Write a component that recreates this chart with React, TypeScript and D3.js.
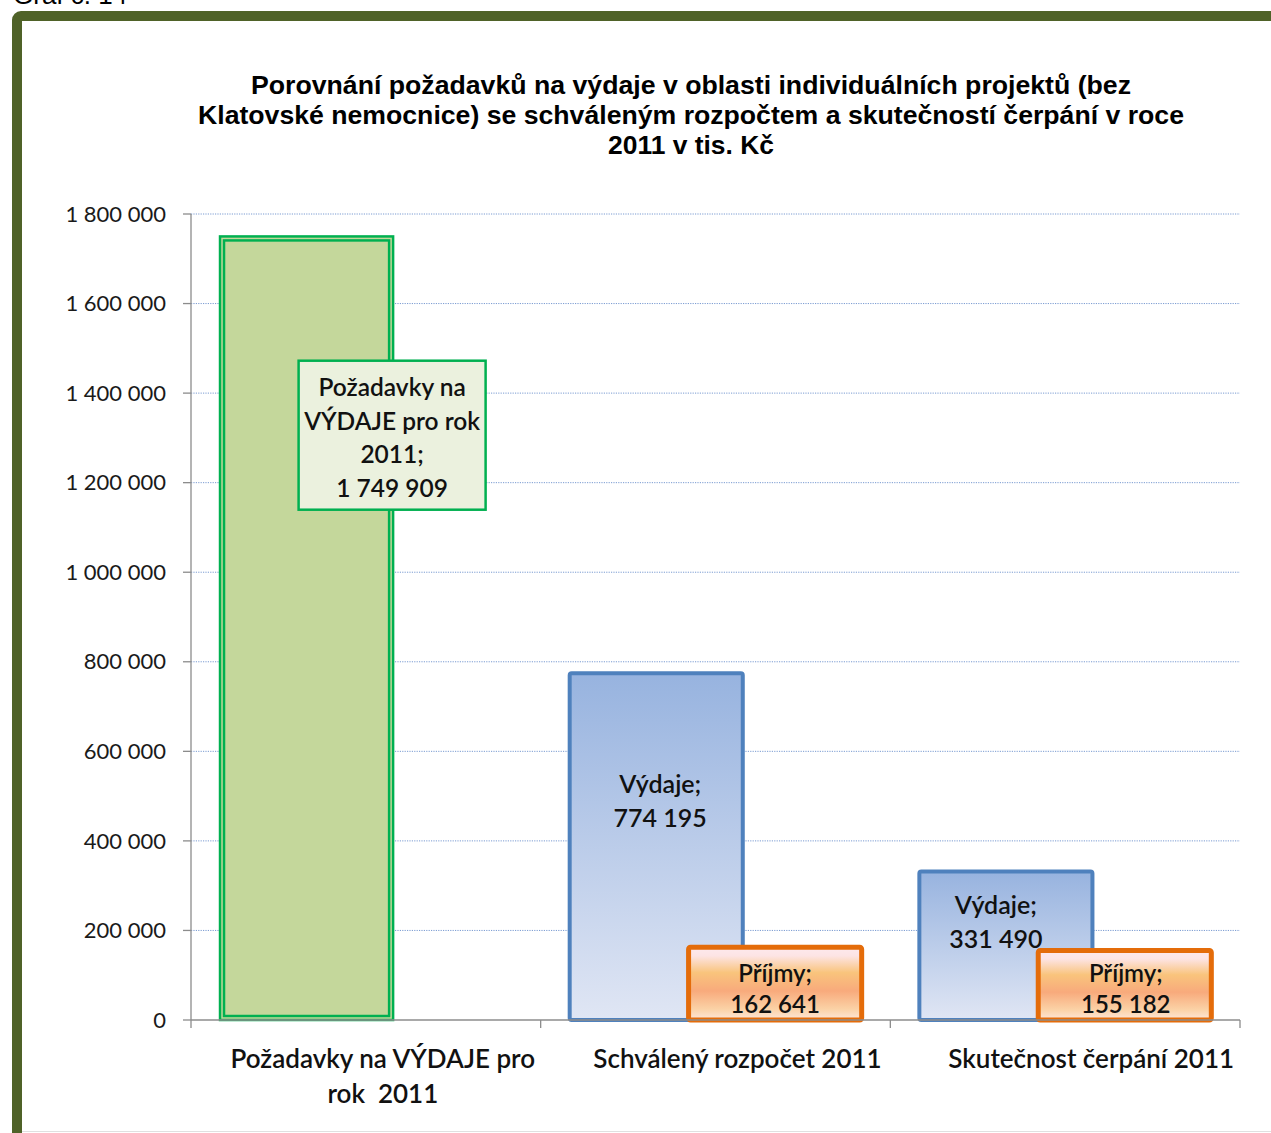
import React from "react";
import * as d3 from "d3";

const categories = ["Požadavky na VÝDAJE pro rok  2011", "Schválený rozpočet 2011", "Skutečnost čerpání 2011"];
const categoryLines = [["Požadavky na VÝDAJE pro", "rok\u00a0\u00a02011"], ["Schválený rozpočet 2011"], ["Skutečnost čerpání 2011"]];
const seriesNames = ["Výdaje", "Příjmy"];
const vydaje = [1749909, 774195, 331490];
const prijmy = [0, 162641, 155182];
const yTicks = [0, 200000, 400000, 600000, 800000, 1000000, 1200000, 1400000, 1600000, 1800000];
const titleLines = [
  "Porovnání požadavků na výdaje v oblasti individuálních projektů (bez",
  "Klatovské nemocnice) se schváleným rozpočtem a skutečností čerpání v roce",
  "2011 v tis. Kč",
];
// label anchor positions (in data units) for data labels
const vydajeLabelAt = [1300000, 489000, 219000];
const prijmyLabelAt = [0, 67000, 67000];

const W = 1271;
const H = 1133;
const plot = { left: 191, right: 1240, top: 214, bottom: 1020 };
const FONT = "Lato, 'Open Sans', sans-serif";
const titleWidths = [880, 986, 166];
const catLabelShift = [17, 22, 26];

const fmt = (v: number) => d3.format(",")(v).replace(/,/g, "\u00a0");

export default function App() {
  const y = d3.scaleLinear().domain([0, 1800000]).range([plot.bottom, plot.top]);
  const x = d3.scaleBand<string>().domain(categories).range([plot.left, plot.right]).paddingInner(0).paddingOuter(0);
  const bw = x.bandwidth();
  const barW = bw * 0.495;
  const vOff = bw * 0.083;
  const pOff = bw * 0.423;

  return (
    <svg width={W} height={H} style={{ position: "absolute", left: 0, top: 0, background: "#fff" }} fontFamily={FONT}>
      <defs>
        <linearGradient id="gV" x1="0" y1="0" x2="0" y2="1">
          <stop offset="0" stopColor="#97b3df" />
          <stop offset="1" stopColor="#e0e6f4" />
        </linearGradient>
        <linearGradient id="gP" x1="0" y1="0" x2="0" y2="1">
          <stop offset="0" stopColor="#fde9ee" />
          <stop offset="0.12" stopColor="#fde4e4" />
          <stop offset="0.35" stopColor="#f9c47c" />
          <stop offset="0.6" stopColor="#f8aa7c" />
          <stop offset="0.85" stopColor="#fbd2a6" />
          <stop offset="1" stopColor="#fde7dc" />
        </linearGradient>
      </defs>
      <text x={13} y={4} fontFamily="'Liberation Sans', Arial, sans-serif" fontSize={26} fill="#000">Graf č. 14</text>
      {/* frame */}
      <rect x={17} y={16} width={1300} height={1200} rx={4} fill="#fff" stroke="#4f6228" strokeWidth={10} />
      <line x1={22} x2={W} y1={1131.5} y2={1131.5} stroke="#e0e0e0" strokeWidth={1} />
      {/* title */}
      {titleLines.map((t, i) => (
        <text key={i} x={691} y={94 + i * 30} textAnchor="middle" fontFamily="'Liberation Sans', Arial, sans-serif"
          fontWeight="bold" fontSize={25} fill="#000" textLength={titleWidths[i]} lengthAdjust="spacingAndGlyphs">{t}</text>
      ))}
      {/* gridlines */}
      {yTicks.filter((t) => t > 0).map((t) => (
        <line key={t} x1={plot.left} x2={plot.right} y1={y(t)} y2={y(t)} stroke="#7a9bd1" strokeWidth={1} strokeDasharray="1.2,1.2" />
      ))}
      {/* y axis */}
      <line x1={plot.left} x2={plot.left} y1={plot.top} y2={plot.bottom} stroke="#8c8c8c" strokeWidth={1.3} />
      {yTicks.map((t) => (
        <g key={t}>
          <line x1={plot.left - 8} x2={plot.left} y1={y(t)} y2={y(t)} stroke="#8c8c8c" strokeWidth={1.3} />
          <text x={166} y={y(t)} dy="0.35em" textAnchor="end" fontSize={22} fill="#1a1a1a">{fmt(t)}</text>
        </g>
      ))}
      {/* bars: Výdaje */}
      {categories.map((c, i) => {
        const x0 = (x(c) as number) + vOff;
        const y0 = y(vydaje[i]);
        const h = y(0) - y0;
        if (i === 0) {
          return (
            <g key={c}>
              <rect x={x0} y={y0} width={barW} height={h} fill="#c4d79b" stroke="#00b050" strokeWidth={2.5} />
              <rect x={x0 + 4} y={y0 + 4} width={barW - 8} height={h - 8} fill="none" stroke="#00b050" strokeWidth={2.5} />
            </g>
          );
        }
        return <rect key={c} x={x0} y={y0} width={barW} height={h} rx={2} fill="url(#gV)" stroke="#4f81bd" strokeWidth={4} />;
      })}
      {/* bars: Příjmy */}
      {categories.map((c, i) => {
        if (prijmy[i] <= 0) return null;
        const x0 = (x(c) as number) + pOff;
        const y0 = y(prijmy[i]);
        return <rect key={c} x={x0} y={y0} width={barW} height={y(0) - y0} rx={2} fill="url(#gP)" stroke="#e46c0a" strokeWidth={5} />;
      })}
      {/* x axis */}
      <line x1={plot.left} x2={plot.right} y1={plot.bottom} y2={plot.bottom} stroke="#8c8c8c" strokeWidth={1.3} />
      {[...categories.map((c) => x(c) as number), plot.right].map((px, i) => (
        <line key={i} x1={px} x2={px} y1={plot.bottom} y2={plot.bottom + 8} stroke="#8c8c8c" strokeWidth={1.3} />
      ))}
      {categories.map((c, i) => {
        const cx = (x(c) as number) + bw / 2 + catLabelShift[i];
        return categoryLines[i].map((ln, j) => (
          <text key={c + j} x={cx} y={1059 + j * 35} dy="0.35em" textAnchor="middle"
            fontSize={26} fontWeight={600} fill="#111">{ln}</text>
        ));
      })}
      {/* data label for first bar */}
      {(() => {
        const cy = y(vydajeLabelAt[0]);
        const cx = (x(categories[0]) as number) + vOff + barW - 1;
        const lines = ["Požadavky na", "VÝDAJE pro rok", "2011;", fmt(vydaje[0])];
        const by = y(1306000);
        return (
          <g>
            <rect x={cx - 93.5} y={by - 74.5} width={187} height={149} fill="#ebf1de" stroke="#00b050" strokeWidth={2.5} />
            {lines.map((ln, j) => (
              <text key={j} x={cx} y={cy + (j - 1.5) * 33.7} dy="0.35em" textAnchor="middle" fontSize={24.5} fontWeight={600} fill="#111">{ln}</text>
            ))}
          </g>
        );
      })()}
      {/* data labels Výdaje */}
      {categories.map((c, i) => {
        if (i === 0) return null;
        const cx = (x(c) as number) + vOff + barW / 2 + (i === 2 ? -10 : 4);
        const cy = y(vydajeLabelAt[i]);
        return (
          <g key={c}>
            <text x={cx} y={cy - 17} dy="0.35em" textAnchor="middle" fontSize={25} fontWeight={600} fill="#111">{seriesNames[0]};</text>
            <text x={cx} y={cy + 17} dy="0.35em" textAnchor="middle" fontSize={25} fontWeight={600} fill="#111">{fmt(vydaje[i])}</text>
          </g>
        );
      })}
      {/* data labels Příjmy */}
      {categories.map((c, i) => {
        if (prijmy[i] <= 0) return null;
        const cx = (x(c) as number) + pOff + barW / 2 + (i === 2 ? 1 : 0);
        const cy = y(prijmyLabelAt[i]);
        return (
          <g key={c}>
            <text x={cx} y={cy - 16} dy="0.35em" textAnchor="middle" fontSize={24} fontWeight={600} fill="#111">{seriesNames[1]};</text>
            <text x={cx} y={cy + 15} dy="0.35em" textAnchor="middle" fontSize={24} fontWeight={600} fill="#111">{fmt(prijmy[i])}</text>
          </g>
        );
      })}
    </svg>
  );
}
